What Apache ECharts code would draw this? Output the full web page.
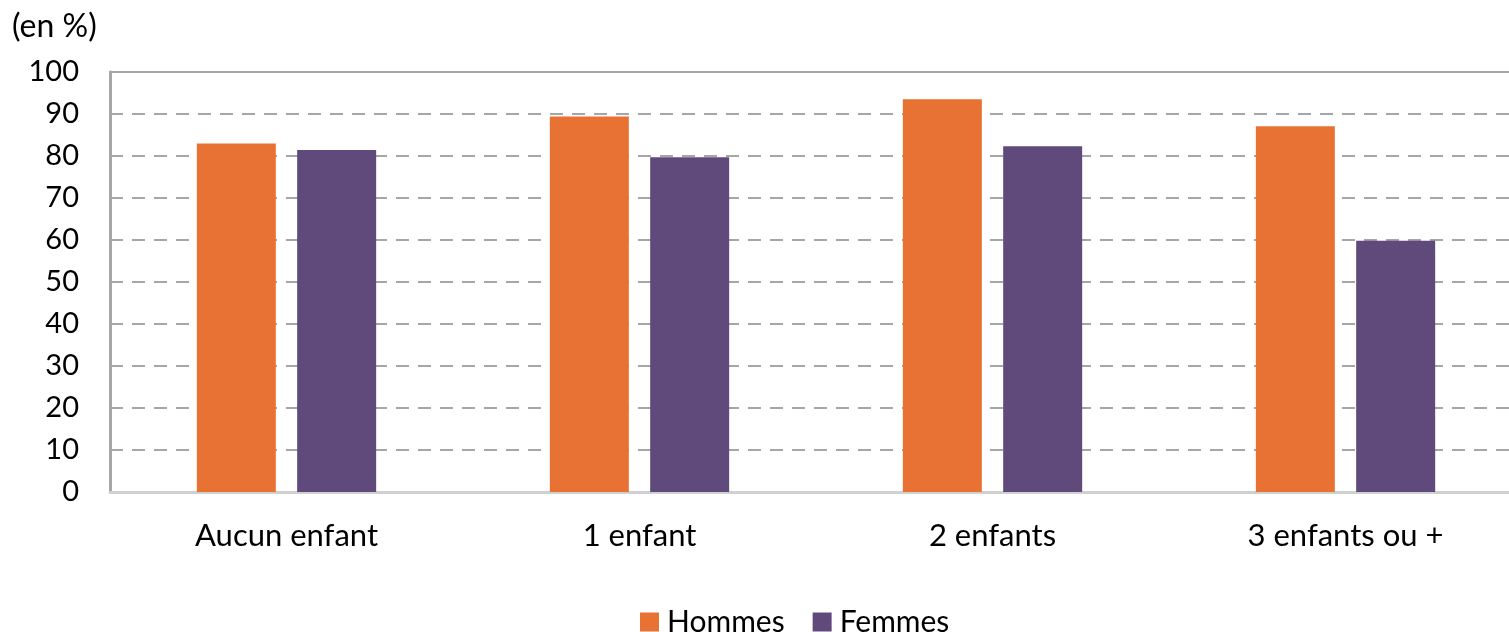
<!DOCTYPE html>
<html>
<head>
<meta charset="utf-8">
<script src="https://cdn.jsdelivr.net/npm/echarts@6/dist/echarts.min.js"></script>
<style>
  html, body { margin: 0; padding: 0; background: #fff; }
  #chart { width: 1509px; height: 632px; }
</style>
</head>
<body>
<div id="chart"></div>
<script>
// données
const categories = ["Aucun enfant", "1 enfant", "2 enfants", "3 enfants ou +"]
const hommes = [83.0, 89.4, 93.5, 87.1]
const femmes = [81.4, 79.7, 82.3, 59.8]
const yTicks = [0, 10, 20, 30, 40, 50, 60, 70, 80, 90, 100]

const font = "Lato, 'Open Sans', sans-serif"
const gridColor = "#a6a6a6"

let chart = echarts.init(document.getElementById("chart"))

chart.setOption({
    animation: false,
    textStyle: { fontFamily: font },
    graphic: [{
        type: "text",
        left: 12,
        top: 11,
        style: { text: "(en %)", font: "32px " + font, fill: "#000" }
    }],
    legend: {
        top: 602,
        left: 635,
        itemWidth: 19,
        itemHeight: 19,
        itemGap: 28,
        icon: "rect",
        textStyle: { fontSize: 30, color: "#000", fontFamily: font, padding: [0, 0, 0, 3] },
        data: ["Hommes", "Femmes"]
    },
    // la zone de tracé déborde un peu à droite, comme dans l'original
    grid: { left: 110, width: 1412, top: 72, bottom: 140, containLabel: false, outerBoundsMode: "none" },
    xAxis: [{
        type: "category",
        data: categories,
        axisLine: { lineStyle: { color: "#d0d0d0", width: 3 } },
        axisTick: { show: false },
        axisLabel: { fontSize: 31, color: "#000", margin: 28, fontFamily: font }
    }, {
        type: "category",
        position: "top",
        data: categories,
        axisLine: { lineStyle: { color: gridColor, width: 2 } },
        axisTick: { show: false },
        axisLabel: { show: false }
    }],
    yAxis: {
        type: "value",
        min: yTicks[0],
        max: yTicks[yTicks.length - 1],
        interval: 10,
        axisLine: { show: true, lineStyle: { color: gridColor, width: 3 } },
        axisTick: { show: false },
        axisLabel: { fontSize: 29, color: "#000", margin: 31, fontFamily: font },
        splitLine: { lineStyle: { color: gridColor, width: 2, type: [13, 9] } }
    },
    series: [{
        name: "Hommes",
        type: "bar",
        data: hommes,
        barWidth: 79,
        barGap: "27%",
        itemStyle: { color: "#e87233" }
    }, {
        name: "Femmes",
        type: "bar",
        data: femmes,
        barWidth: 79,
        itemStyle: { color: "#604a7b" }
    }]
})
</script>
</body>
</html>
